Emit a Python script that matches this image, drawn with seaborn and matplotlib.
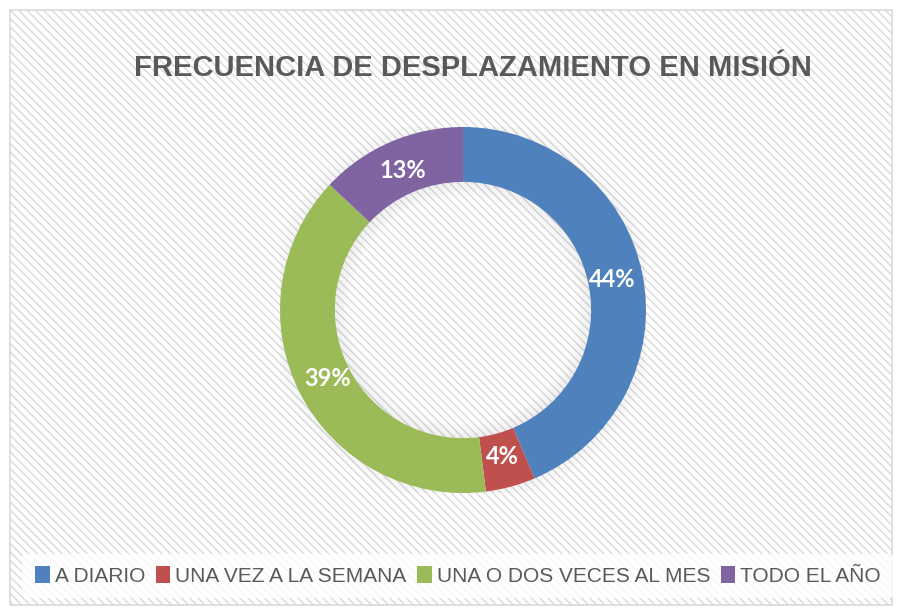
import matplotlib
matplotlib.use("Agg")
import matplotlib.pyplot as plt
import seaborn as sns
import numpy as np
from matplotlib.patches import Rectangle, Wedge, Patch

categorias = ["A DIARIO", "UNA VEZ A LA SEMANA", "UNA O DOS VECES AL MES", "TODO EL AÑO"]
porcentajes = [43.6, 4.4, 39.0, 13.0]
colores = ["#4F81BD", "#C0504D", "#9BBB59", "#8064A2"]
titulo = "FRECUENCIA DE DESPLAZAMIENTO EN MISIÓN"

sns.set_theme(style="white")
plt.rcParams["font.family"] = ["Liberation Sans", "DejaVu Sans"]
paleta = sns.color_palette(colores)

W, H = 902, 609
fig = plt.figure(figsize=(W / 100, H / 100), dpi=100)
fig.patch.set_facecolor("white")

## Hatched chart area with a light border...
plt.rcParams["hatch.color"] = "#efefef"
plt.rcParams["hatch.linewidth"] = 1.0
fondo = Rectangle((10 / W, 4 / H), 882 / W, 595 / H, transform=fig.transFigure,
                  facecolor="white", edgecolor="#d9d9d9", hatch="\\\\\\\\", lw=1.2, zorder=-10)
fig.patches.append(fondo)

## Donut axes placed by pixel centre (463, 310) and radius 183...
cx, cy, r = 463, 310, 183
ax = fig.add_axes([(cx - r) / W, (H - cy - r) / H, 2 * r / W, 2 * r / H])
ax.set_facecolor("none")

wedges, _ = ax.pie(porcentajes, colors=paleta, startangle=90, counterclock=False,
                   radius=1.0, wedgeprops=dict(width=0.30, linewidth=0))

## soft shadow round the ring
for i in range(8):
    ax.add_patch(Wedge((0, 0), 1.0 + 0.01 * (i + 1), 0, 360, width=0.01,
                       color="black", alpha=0.035 * (8 - i) / 8, lw=0, zorder=0))
    ax.add_patch(Wedge((0, 0), 0.70 - 0.01 * i, 0, 360, width=0.01,
                       color="black", alpha=0.06 * (8 - i) / 8, lw=0, zorder=0))

## Percent labels in the middle of the ring...
ang = 90.0
for v in porcentajes:
    mid = np.deg2rad(ang - v * 3.6 / 2)
    ax.text(0.83 * np.cos(mid), 0.83 * np.sin(mid), f"{v:.0f}%", ha="center", va="center",
            color="white", fontsize=17, fontweight="bold", family=["Lato", "DejaVu Sans"],
            zorder=5)
    ang -= v * 3.6

ax.set_xlim(-1, 1)
ax.set_ylim(-1, 1)
ax.set_aspect("equal")
ax.axis("off")

fig.text(473 / W, 1 - 68 / H, titulo, ha="center", va="center", fontsize=21,
         fontweight="bold", color="#595959")

## Legend along the bottom...
handles = [Patch(facecolor=c, edgecolor="none") for c in paleta]
leg = fig.legend(handles, categorias, loc="center", bbox_to_anchor=(458 / W, 1 - 576 / H),
                 ncol=4, frameon=True, handlelength=0.7, handleheight=0.9,
                 handletextpad=0.25, columnspacing=0.5, borderpad=0.6,
                 prop={"family": ["Liberation Sans", "DejaVu Sans"], "size": 15})
leg.get_frame().set_facecolor("white")
leg.get_frame().set_edgecolor("none")
leg.get_frame().set_alpha(0.8)
for t in leg.get_texts():
    t.set_color("#595959")

plt.savefig("out.png", dpi=100)
plt.close()
